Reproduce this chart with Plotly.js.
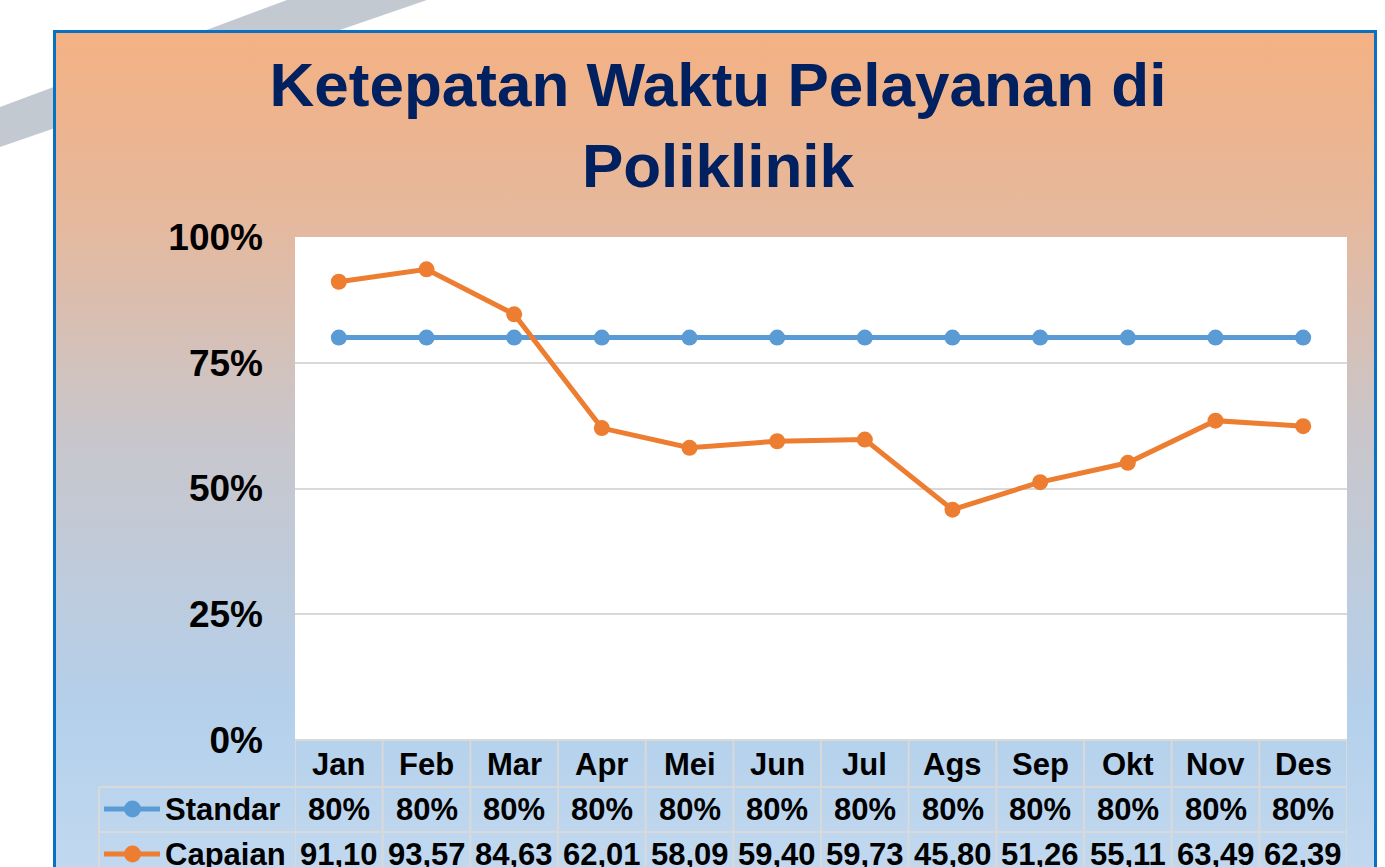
<!DOCTYPE html>
<html>
<head>
<meta charset="utf-8">
<script src="https://cdn.plot.ly/plotly-3.0.1.min.js"></script>
<style>
  html, body { margin:0; padding:0; background:#ffffff; width:1385px; height:867px; overflow:hidden; }
  #stripe { position:absolute; left:0; top:0; width:1385px; height:867px; background:#C3C9D1;
            clip-path: polygon(0px 107px, 287px 0px, 427px 0px, 0px 147px); }
  #panel { position:absolute; left:53px; top:30px; width:1324px; height:900px; box-sizing:border-box;
           border:3px solid #0A70C2;
           background: linear-gradient(to bottom, #F4B183 0px, #E6B89C 180px, #C9C6CB 400px, #B4D0EB 680px, #C6DCF1 900px); }
  #chart { position:absolute; left:0; top:0; width:1385px; height:867px; }
</style>
</head>
<body>
<div id="stripe"></div>
<div id="panel"></div>
<div id="chart"></div>
<script>
// ---- data ----
const months = ['Jan','Feb','Mar','Apr','Mei','Jun','Jul','Ags','Sep','Okt','Nov','Des'];
const standar = [80,80,80,80,80,80,80,80,80,80,80,80];
const capaian = [91.10,93.57,84.63,62.01,58.09,59.40,59.73,45.80,51.26,55.11,63.49,62.39];
const seriesNames = ['Standar','Capaian'];
const yTicks = [0,25,50,75,100];
const titleText = 'Ketepatan Waktu Pelayanan di<br>Poliklinik';

// ---- styles ----
const colors = ['#5B9BD5','#ED7D31'];
const FONT = '"Liberation Sans", Arial, sans-serif';
const L = 295, R = 1347, T = 237, B = 740;   // plot area in px
const W = R - L, H = B - T;
const px = p => (p - L) / W;          // px -> paper x
const py = p => (B - p) / H;          // px -> paper y
const gridC = '#D9D9D9';

const traces = [standar, capaian].map((vals, i) => ({
  type:'scatter', mode:'lines+markers', name: seriesNames[i],
  x: months, y: vals,
  line:{color:colors[i], width:5},
  marker:{color:colors[i], size:16},
  cliponaxis:false, showlegend:false, hoverinfo:'skip'
}));

// ---- data table ----
const rowTop = [740, 787, 832, 877];
const rowMid = [764, 809, 854];
const annotations = [];
const shapes = [];
const tf = {family:FONT, size:31, color:'#000000', weight:'bold'};

months.forEach((m, i) => {
  annotations.push({xref:'x', yref:'paper', x:m, y:py(rowMid[0]), text:m, showarrow:false,
    xanchor:'center', yanchor:'middle', font:tf});
  annotations.push({xref:'x', yref:'paper', x:m, y:py(rowMid[1]), text:standar[i] + '%', showarrow:false,
    xanchor:'center', yanchor:'middle', font:tf});
  annotations.push({xref:'x', yref:'paper', x:m, y:py(rowMid[2]), text:capaian[i].toFixed(2).replace('.', ','), showarrow:false,
    xanchor:'center', yanchor:'middle', font:tf});
});
seriesNames.forEach((n, i) => {
  annotations.push({xref:'paper', yref:'paper', x:px(163), y:py(rowMid[i+1]), text:n, showarrow:false,
    xanchor:'left', yanchor:'middle', font:tf});
  shapes.push({type:'line', xref:'paper', yref:'paper', x0:px(104), x1:px(160), y0:py(rowMid[i+1]), y1:py(rowMid[i+1]),
    line:{color:colors[i], width:5}});
  shapes.push({type:'circle', xref:'paper', yref:'paper', x0:px(124), x1:px(141),
    y0:py(rowMid[i+1]-8.5), y1:py(rowMid[i+1]+8.5), fillcolor:colors[i], line:{width:0}});
});
// horizontal lines
shapes.push({type:'line', xref:'paper', yref:'paper', x0:0, x1:1, y0:py(rowTop[0]), y1:py(rowTop[0]), line:{color:gridC, width:2}});
for (let k = 1; k < rowTop.length; k++) {
  shapes.push({type:'line', xref:'paper', yref:'paper', x0:px(99), x1:1, y0:py(rowTop[k]), y1:py(rowTop[k]), line:{color:gridC, width:2}});
}
// vertical lines
for (let k = 0; k <= months.length; k++) {
  shapes.push({type:'line', xref:'x', yref:'paper', x0:k-0.5, x1:k-0.5, y0:py(rowTop[0]), y1:py(900), line:{color:gridC, width:2}});
}
shapes.push({type:'line', xref:'paper', yref:'paper', x0:px(99), x1:px(99), y0:py(rowTop[1]), y1:py(900), line:{color:gridC, width:2}});

const layout = {
  width:1385, height:867,
  margin:{l:L, r:1385-R, t:T, b:867-B, pad:0},
  paper_bgcolor:'rgba(0,0,0,0)',
  plot_bgcolor:'#FFFFFF',
  title:{text:titleText, x:718/1385, xanchor:'center', yref:'container', y:1-106/867, yanchor:'top',
         font:{family:FONT, size:62, color:'#002060', weight:'bold'}},
  xaxis:{type:'category', range:[-0.5, months.length-0.5], showticklabels:false, showgrid:false,
         zeroline:false, showline:false, ticks:'', fixedrange:true},
  yaxis:{range:[0,100], tickvals:yTicks, ticktext:yTicks.map(v => v + '%'), showgrid:true, gridcolor:gridC, gridwidth:2,
         zeroline:false, showline:false, ticks:'', ticklabelstandoff:31,
         tickfont:{family:FONT, size:37, color:'#000000', weight:'bold'}, fixedrange:true},
  annotations, shapes,
  showlegend:false
};
Plotly.newPlot('chart', traces, layout, {displayModeBar:false, staticPlot:true});
</script>
</body>
</html>
